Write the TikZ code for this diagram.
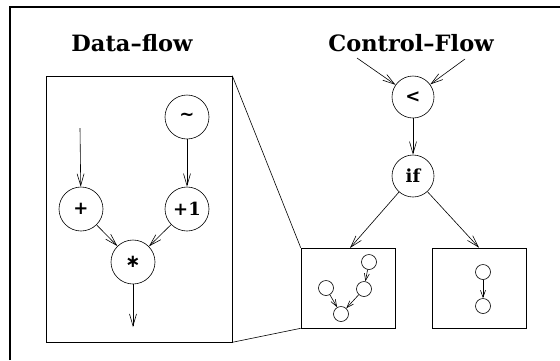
\documentclass[tikz,border=0pt]{standalone}
\usepackage{fontspec}
\newfontfamily\symfnt{DejaVu Sans}
\newfontfamily\hvyserif{DejaVu Serif}
\usetikzlibrary{arrows.meta}
\begin{document}
\begin{tikzpicture}[x=1pt,y=-1pt,
  arr/.style={-{Straight Barb[length=12pt,width=7pt]}, line width=0.6pt},
  sarr/.style={-{Straight Barb[length=7pt,width=5pt]}, line width=0.6pt},
  op/.style={circle, draw, line width=0.6pt, minimum size=44pt, inner sep=0pt, font=\fontsize{18}{20}\hvyserif\bfseries},
  mini/.style={circle, draw, line width=0.6pt, minimum size=15pt, inner sep=0pt},
  box/.style={draw, line width=0.6pt, inner sep=0pt},
  title/.style={font=\fontsize{22.5}{26}\hvyserif\bfseries, inner sep=0pt}]
\useasboundingbox (0,0) rectangle (560,360);
\draw[line width=1.8pt] (10,360) -- (10,7) -- (560,7);
% titles
\node[title] (tdf) at (132,43) {Data–flow};
\node[title] (tcf) at (411,43) {Control–Flow};
% boxes
\node[box, minimum width=186pt, minimum height=266pt] (dfbox) at (139,209) {};
\node[box, minimum width=94pt, minimum height=80pt] (lbox) at (348,288) {};
\node[box, minimum width=94pt, minimum height=80pt] (rbox) at (479,288) {};
\draw[line width=0.6pt] (dfbox.north east) -- (lbox.north west);
\draw[line width=0.6pt] (dfbox.south east) -- (lbox.south west);
% data flow
\node[op] (tilde) at (187,117) {\symfnt\bfseries ∼};
\node[op] (plus) at (81,209) {\symfnt\bfseries +};
\node[op] (plusone) at (187,209) {+1};
\node[op] (mul) at (133,262) {\symfnt\bfseries ∗};
\coordinate (inp) at (80,128);
\coordinate (outp) at (133,327);
\draw[arr] (inp) -- (plus);
\draw[arr] (tilde) -- (plusone);
\draw[arr] (plus) -- (mul);
\draw[arr] (plusone) -- (mul);
\draw[arr] (mul) -- (outp);
% control flow
\node[op, minimum size=42pt] (lt) at (413,97) {\symfnt\bfseries <};
\node[op, minimum size=42pt] (iff) at (413,176) {if};
\coordinate (in1) at (357,58);
\coordinate (in2) at (465,59);
\draw[arr] (in1) -- (lt);
\draw[arr] (in2) -- (lt);
\draw[arr] (lt) -- (iff);
\draw[arr] (iff) -- (350,248);
\draw[arr] (iff) -- (rbox.north);
% mini graphs
\node[mini] (m1) at (326,288) {};
\node[mini] (m2) at (369,262) {};
\node[mini] (m3) at (364,289) {};
\node[mini] (m4) at (341,314) {};
\draw[sarr] (m2) -- (m3);
\draw[sarr] (m3) -- (m4);
\draw[sarr] (m1) -- (m4);
\node[mini] (r1) at (483,272) {};
\node[mini] (r2) at (483,306) {};
\draw[sarr] (r1) -- (r2);
\end{tikzpicture}
\end{document}
